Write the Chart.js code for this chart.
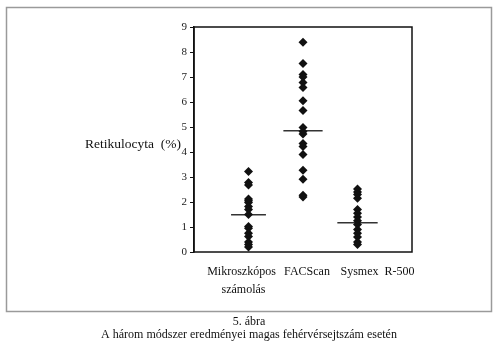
<!DOCTYPE html>
<html>
<head>
<meta charset="utf-8">
<script src="https://cdn.jsdelivr.net/npm/chart.js@4/dist/chart.umd.min.js"></script>
<style>
  html, body { margin: 0; padding: 0; background: #fff; }
</style>
</head>
<body>
<canvas id="chart" width="500" height="358"></canvas>
<script>
// values
const methods = [['Mikroszkópos', 'számolás'], ['FACScan'], ['Sysmex  R-500']];
const mikroszkopos = [3.22, 2.78, 2.68, 2.12, 2.05, 1.98, 1.82, 1.70, 1.50, 1.02, 0.95, 0.75, 0.62, 0.40, 0.30, 0.20];
const facscan = [8.39, 7.54, 7.10, 7.00, 6.78, 6.58, 6.05, 5.66, 4.98, 4.82, 4.72, 4.34, 4.22, 3.90, 3.27, 2.91, 2.27, 2.20];
const sysmex = [2.52, 2.40, 2.30, 2.15, 1.70, 1.55, 1.40, 1.25, 1.10, 0.90, 0.75, 0.60, 0.40, 0.30];
const means = [1.49, 4.85, 1.17];
const yTicks = [0, 1, 2, 3, 4, 5, 6, 7, 8, 9];
const yTitle = 'Retikulocyta  (%)';
const caption = ['5. ábra', 'A három módszer eredményei magas fehérvérsejtszám esetén'];

const serif = '"Liberation Serif", "Times New Roman", serif';
const series = [mikroszkopos, facscan, sysmex];

const pointSets = series.map((vals, i) => ({
  type: 'scatter',
  data: vals.map(v => ({ x: i + 1, y: v })),
  pointStyle: 'rectRot',
  pointRadius: 4.5,
  pointHoverRadius: 4.5,
  backgroundColor: '#111',
  borderColor: '#111',
  borderWidth: 0
}));

const halfW = [0.32, 0.36, 0.37];
const meanSets = means.map((m, i) => ({
  type: 'line',
  data: [{ x: i + 1 - halfW[i], y: m }, { x: i + 1 + halfW[i], y: m }],
  borderColor: '#333',
  borderWidth: 1.5,
  pointRadius: 0,
  fill: false
}));

// outer frame, plot box, labels and caption
const decor = {
  id: 'decor',
  beforeDraw(chart) {
    const ctx = chart.ctx;
    ctx.save();
    ctx.fillStyle = '#fff';
    ctx.fillRect(0, 0, chart.width, chart.height);
    ctx.strokeStyle = '#9a9a9a';
    ctx.lineWidth = 1.5;
    ctx.strokeRect(6.5, 7.5, 485, 304);
    ctx.restore();
  },
  afterDraw(chart) {
    const ctx = chart.ctx;
    const a = chart.chartArea;
    const xs = chart.scales.x;
    const ys = chart.scales.y;
    ctx.save();
    ctx.strokeStyle = '#111';
    ctx.lineWidth = 1.5;
    ctx.strokeRect(a.left, a.top, a.right - a.left, a.bottom - a.top);

    ctx.fillStyle = '#111';
    ctx.font = '13.5px ' + serif;
    ctx.textAlign = 'right';
    ctx.textBaseline = 'middle';
    ctx.fillText(yTitle, 181, ys.getPixelForValue(4) - 8);

    ctx.font = '12px ' + serif;
    ctx.textAlign = 'center';
    ctx.textBaseline = 'middle';
    const dx = [-7, 4, 20];
    methods.forEach((lines, i) => {
      const cx = xs.getPixelForValue(i + 1) + dx[i];
      lines.forEach((t, j) => {
        const off = j === 1 ? 2 : 0;
        ctx.fillText(t, cx + off, 272 + j * 18);
      });
    });

    ctx.fillText(caption[0], 249, 322);
    ctx.fillText(caption[1], 249, 335);
    ctx.restore();
  }
};

new Chart(document.getElementById('chart'), {
  type: 'scatter',
  data: { datasets: [...pointSets, ...meanSets] },
  options: {
    responsive: false,
    animation: false,
    layout: { padding: { left: 0, top: 27, right: 88, bottom: 106 } },
    plugins: { legend: { display: false }, tooltip: { enabled: false } },
    scales: {
      x: {
        type: 'linear',
        min: 0,
        max: 4,
        display: true,
        ticks: { display: false },
        grid: { display: false, drawTicks: false },
        border: { display: false },
        afterFit(scale) { scale.height = 0; }
      },
      y: {
        min: 0,
        max: 9,
        afterBuildTicks(scale) { scale.ticks = yTicks.map(v => ({ value: v })); },
        ticks: {
          color: '#222',
          font: { family: serif, size: 11 },
          padding: 3
        },
        grid: { drawOnChartArea: false, drawTicks: true, tickLength: 4, color: '#111', lineWidth: 1 },
        border: { display: true, color: '#111', width: 1.5 },
        afterFit(scale) { scale.width = 194; }
      }
    }
  },
  plugins: [decor]
});
</script>
</body>
</html>
